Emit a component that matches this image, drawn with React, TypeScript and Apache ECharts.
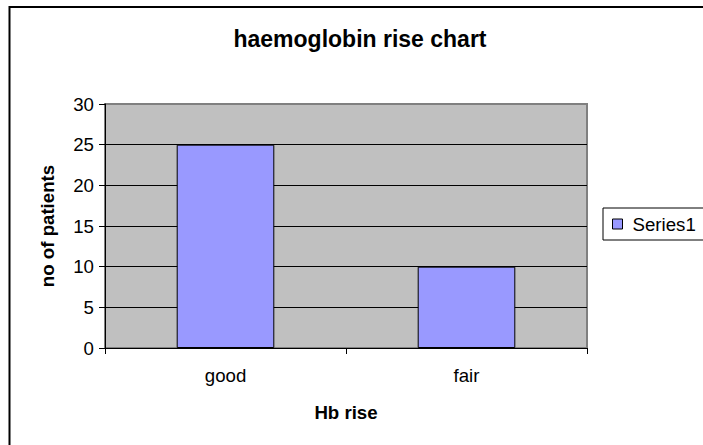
import React, { useEffect, useRef } from "react";
import * as echarts from "echarts";

const categories = ["good", "fair"];
const seriesName = "Series1";
const values = [25, 10];
const titleText = "haemoglobin rise chart";
const xAxisName = "Hb rise";
const yAxisName = "no of patients";

const FONT = "Arial, 'Liberation Sans', sans-serif";

export default function App() {
  const ref = useRef<HTMLDivElement>(null);
  useEffect(() => {
    if (!ref.current) return;
    const chart = echarts.init(ref.current, null, { renderer: "svg" });
    chart.setOption({
      animation: false,
      backgroundColor: "#ffffff",
      textStyle: { fontFamily: FONT, color: "#000" },
      graphic: [
        {
          type: "rect",
          shape: { x: 9.5, y: 7, width: 800, height: 600 },
          style: { fill: "none", stroke: "#000", lineWidth: 2 },
          z: 0,
        },
        {
          type: "text",
          x: 360,
          y: 39,
          style: {
            text: titleText,
            fontFamily: FONT,
            fontSize: 23,
            fontWeight: "bold",
            fill: "#000",
            align: "center",
            verticalAlign: "middle",
          },
        },
      ],
      legend: {
        left: 603,
        top: 208,
        orient: "vertical",
        data: [seriesName],
        icon: "rect",
        itemWidth: 10,
        itemHeight: 10,
        borderColor: "#000",
        borderWidth: 1,
        padding: [6, 20, 6, 9],
        textStyle: {
          fontFamily: FONT,
          fontSize: 18.67,
          color: "#000",
          lineHeight: 20,
          padding: [0, 0, 0, 5],
        },
        itemStyle: { borderColor: "#000", borderWidth: 1 },
      },
      grid: {
        left: 105,
        right: 116,
        top: 104,
        bottom: 97,
        show: true,
        backgroundColor: "#C0C0C0",
        borderColor: "#808080",
        borderWidth: 2,
        containLabel: false,
      },
      xAxis: {
        type: "category",
        data: categories,
        name: xAxisName,
        nameLocation: "middle",
        nameGap: 55,
        nameTextStyle: { fontFamily: FONT, fontSize: 18.67, fontWeight: "bold", color: "#000" },
        axisLine: { show: true, lineStyle: { color: "#000", width: 1 } },
        axisTick: { show: true, alignWithLabel: false, length: 6, lineStyle: { color: "#000" } },
        axisLabel: { fontFamily: FONT, fontSize: 18.67, color: "#000", margin: 18 },
        splitLine: { show: false },
      },
      yAxis: {
        type: "value",
        min: 0,
        max: 30,
        interval: 5,
        name: yAxisName,
        nameLocation: "middle",
        nameGap: 48,
        nameRotate: 90,
        nameTextStyle: { fontFamily: FONT, fontSize: 18.67, fontWeight: "bold", color: "#000" },
        axisLine: { show: true, lineStyle: { color: "#000", width: 1 } },
        axisTick: { show: true, inside: false, length: 6, lineStyle: { color: "#000" } },
        axisLabel: { fontFamily: FONT, fontSize: 18.67, color: "#000", margin: 11 },
        splitLine: {
          show: true,
          lineStyle: {
            color: ["#000", "#000", "#000", "#000", "#000", "#000", "#808080"],
            width: 1,
          },
        },
      },
      series: [
        {
          name: seriesName,
          type: "bar",
          data: values,
          barCategoryGap: "59.5%",
          itemStyle: { color: "#9999FF", borderColor: "#000", borderWidth: 1 },
        },
      ],
    });
    return () => chart.dispose();
  }, []);
  return (
    <div
      ref={ref}
      style={{ position: "fixed", left: 0, top: 0, width: 703, height: 445, background: "#fff" }}
    />
  );
}
